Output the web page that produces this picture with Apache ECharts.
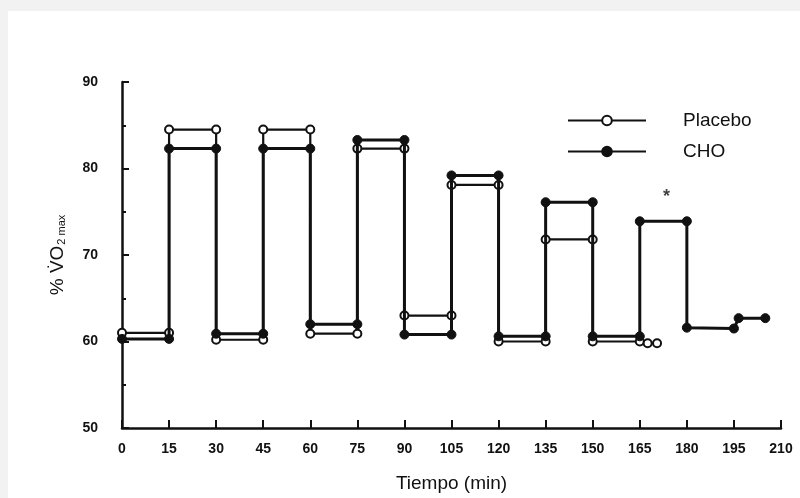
<!DOCTYPE html>
<html>
<head>
<meta charset="utf-8">
<script src="https://cdn.jsdelivr.net/npm/echarts@6/dist/echarts.min.js"></script>
<style>
  html, body { margin: 0; padding: 0; background: #f2f2f2; }
  #main { width: 800px; height: 498px; }
</style>
</head>
<body>
<div id="main"></div>
<script>
// % VO2 max durante el ejercicio intermitente, Placebo vs CHO

var xTicks = [0, 15, 30, 45, 60, 75, 90, 105, 120, 135, 150, 165, 180, 195, 210]
var yTicks = [50, 60, 70, 80, 90]

var placeboTime = [0, 15, 15, 30, 30, 45, 45, 60, 60, 75, 75, 90, 90, 105, 105, 120, 120, 135, 135, 150, 150, 165, 167.5, 170.5]
var placeboValue = [61, 61, 84.5, 84.5, 60.2, 60.2, 84.5, 84.5, 60.9, 60.9, 82.3, 82.3, 63, 63, 78.1, 78.1, 60, 60, 71.8, 71.8, 60, 60, 59.8, 59.8]

var choTime = [0, 15, 15, 30, 30, 45, 45, 60, 60, 75, 75, 90, 90, 105, 105, 120, 120, 135, 135, 150, 150, 165, 165, 180, 180, 195, 196.5, 205]
var choValue = [60.3, 60.3, 82.3, 82.3, 60.9, 60.9, 82.3, 82.3, 62, 62, 83.3, 83.3, 60.8, 60.8, 79.2, 79.2, 60.6, 60.6, 76.1, 76.1, 60.6, 60.6, 73.9, 73.9, 61.6, 61.5, 62.7, 62.7]

// asterisco de significancia
var starTime = [173.5]
var starValue = [76.7]

function pairs (xs, ys) {
  var out = []
  for (var i = 0; i < xs.length; i++) {
    out.push([xs[i], ys[i]])
  }
  return out
}

var font = '"Liberation Sans", Arial, sans-serif'
var chart = echarts.init(document.getElementById('main'))

var option = {
  backgroundColor: '#f2f2f2',
  animation: false,
  graphic: [{
    type: 'rect',
    z: -10,
    shape: { x: 8, y: 11, width: 792, height: 487 },
    style: { fill: '#ffffff' }
  }],
  legend: {
    orient: 'vertical',
    left: 562,
    top: 106,
    itemWidth: 78,
    itemHeight: 12,
    itemGap: 12,
    textStyle: { fontFamily: font, fontSize: 19, color: '#111', padding: [0, 0, 0, 32] },
    data: ['Placebo', 'CHO']
  },
  grid: { left: 122, right: 19, top: 82, bottom: 70 },
  xAxis: {
    type: 'value',
    min: 0,
    max: 210,
    interval: 15,
    name: 'Tiempo (min)',
    nameLocation: 'middle',
    nameGap: 46,
    nameTextStyle: { fontFamily: font, fontSize: 19, color: '#111' },
    axisLine: { lineStyle: { color: '#111', width: 2.5 } },
    axisTick: { inside: true, length: 8, lineStyle: { color: '#111', width: 2 } },
    axisLabel: {
      margin: 14, fontFamily: font, fontSize: 14, fontWeight: 'bold', color: '#111',
      formatter: function (v) { return xTicks.indexOf(v) >= 0 ? String(v) : '' }
    },
    splitLine: { show: false }
  },
  yAxis: {
    type: 'value',
    min: 50,
    max: 90,
    interval: 10,
    name: '% V\u0307O{sub|2 max}',
    nameLocation: 'middle',
    nameRotate: 90,
    nameGap: 55,
    nameTextStyle: {
      fontFamily: font, fontSize: 19, color: '#111',
      rich: { sub: { fontFamily: font, fontSize: 11, color: '#111', verticalAlign: 'bottom', padding: [8, 0, 0, 1] } }
    },
    axisLine: { show: true, lineStyle: { color: '#111', width: 2.5 } },
    axisTick: { inside: true, length: 7, lineStyle: { color: '#111', width: 2 } },
    minorTick: { show: true, splitNumber: 2, length: 4, lineStyle: { color: '#111', width: 2 } },
    axisLabel: {
      margin: 24, fontFamily: font, fontSize: 14, fontWeight: 'bold', color: '#111',
      formatter: function (v) { return yTicks.indexOf(v) >= 0 ? String(v) : '' }
    },
    splitLine: { show: false }
  },
  series: [
    {
      name: 'Placebo',
      type: 'line',
      data: pairs(placeboTime, placeboValue),
      symbol: 'circle',
      symbolSize: 8,
      itemStyle: { color: '#ffffff', borderColor: '#111', borderWidth: 2 },
      lineStyle: { color: '#111', width: 2.2 },
      z: 3
    },
    {
      name: 'CHO',
      type: 'line',
      data: pairs(choTime, choValue),
      symbol: 'circle',
      symbolSize: 9,
      itemStyle: { color: '#111', borderColor: '#111', borderWidth: 1 },
      lineStyle: { color: '#111', width: 3 },
      z: 4
    },
    {
      name: 'sig',
      type: 'scatter',
      data: pairs(starTime, starValue),
      symbol: 'circle',
      symbolSize: 0,
      label: {
        show: true, position: 'inside', formatter: '*',
        fontFamily: font, fontSize: 18, fontWeight: 'bold', color: '#111'
      },
      silent: true
    }
  ]
}

chart.setOption(option)
</script>
</body>
</html>
